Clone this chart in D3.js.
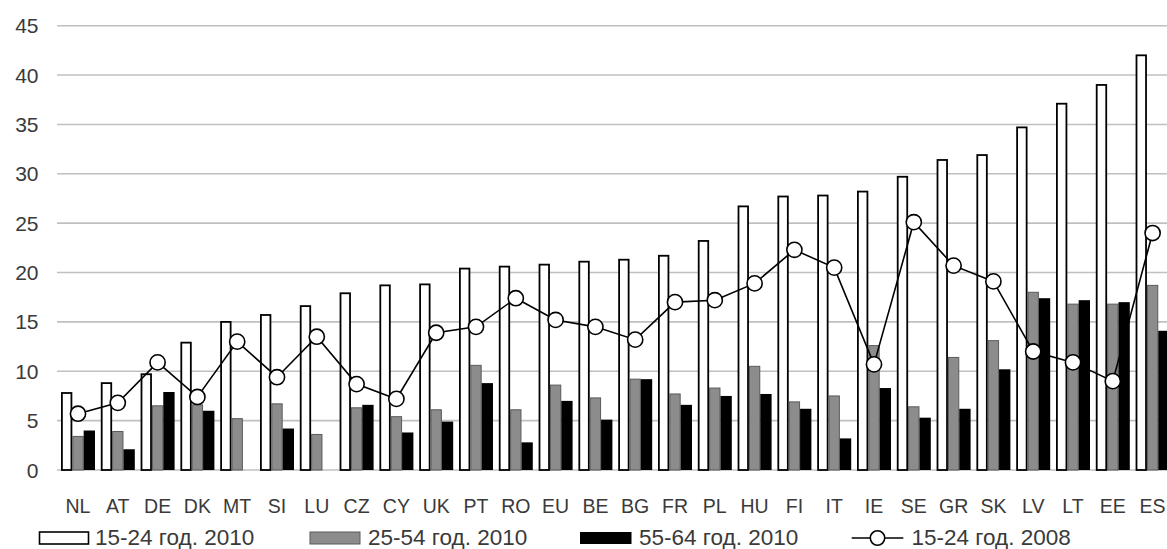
<!DOCTYPE html>
<html>
<head>
<meta charset="utf-8">
<script src="https://cdn.jsdelivr.net/npm/d3@7"></script>
<style>
  html, body { margin: 0; padding: 0; background: #fff; overflow: hidden; }
  text { font-family: "Liberation Sans", Arial, sans-serif; fill: #3a3a3a; }
</style>
</head>
<body>
<svg id="chart" width="1167" height="549"></svg>
<script>
const categories = ["NL","AT","DE","DK","MT","SI","LU","CZ","CY","UK","PT","RO","EU","BE","BG","FR","PL","HU","FI","IT","IE","SE","GR","SK","LV","LT","EE","ES"];
const youth2010 = [7.8,8.8,9.7,12.9,15.0,15.7,16.6,17.9,18.7,18.8,20.4,20.6,20.8,21.1,21.3,21.7,23.2,26.7,27.7,27.8,28.2,29.7,31.4,31.9,34.7,37.1,39.0,42.0];
const prime2010 = [3.4,3.9,6.5,6.6,5.2,6.7,3.6,6.3,5.4,6.1,10.6,6.1,8.6,7.3,9.2,7.7,8.3,10.5,6.9,7.5,12.6,6.4,11.4,13.1,18.0,16.8,16.8,18.7];
const older2010 = [4.0,2.1,7.9,6.0,null,4.2,null,6.6,3.8,4.9,8.8,2.8,7.0,5.1,9.2,6.6,7.5,7.7,6.2,3.2,8.3,5.3,6.2,10.2,17.4,17.2,17.0,14.1];
const youth2008 = [5.7,6.8,10.9,7.4,13.0,9.4,13.5,8.7,7.2,13.9,14.5,17.4,15.2,14.5,13.2,17.0,17.2,18.9,22.3,20.5,10.7,25.1,20.7,19.1,12.0,10.9,9.0,24.0];
const yTicks = [0,5,10,15,20,25,30,35,40,45];
const seriesNames = ["15-24 год. 2010","25-54 год. 2010","55-64 год. 2010","15-24 год. 2008"];

const svg = d3.select("#chart");
const step = 39.8;
const x0 = 58.1;
const x = d3.scaleBand().domain(categories).range([x0, x0 + step * categories.length]).padding(0);
const y = d3.scaleLinear().domain([0, 45]).range([470, 25.7]);
const sub = d3.scaleBand().domain(["a","b","c"]).range([x.bandwidth()/2 - 17, x.bandwidth()/2 + 17]).padding(0);

// gridlines
svg.append("g").selectAll("line").data(yTicks).join("line")
  .attr("x1", 57).attr("x2", 1167)
  .attr("y1", d => y(d)).attr("y2", d => y(d))
  .attr("stroke", "#c0c0c0").attr("stroke-width", 1.6);

// y tick labels
svg.append("g").selectAll("text").data(yTicks).join("text")
  .attr("x", 38.5).attr("y", d => y(d)).attr("dy", "0.36em")
  .attr("text-anchor", "end").style("font-size", "21px")
  .text(d => d);

// bars
const barW = sub.bandwidth();
svg.append("g").selectAll("rect").data(categories).join("rect")
  .attr("x", (d) => x(d) + sub("a") + 0.9)
  .attr("y", (d,i) => y(youth2010[i]))
  .attr("width", barW - 1.8)
  .attr("height", (d,i) => y(0) - y(youth2010[i]))
  .attr("fill", "#fff").attr("stroke", "#000").attr("stroke-width", 1.8);

svg.append("g").selectAll("rect").data(categories).join("rect")
  .attr("x", (d) => x(d) + sub("b") + 0.5)
  .attr("y", (d,i) => y(prime2010[i]))
  .attr("width", barW - 1)
  .attr("height", (d,i) => y(0) - y(prime2010[i]))
  .attr("fill", "#8c8c8c").attr("stroke", "#5a5a5a").attr("stroke-width", 1);

svg.append("g").selectAll("rect").data(categories.filter((d,i) => older2010[i] != null)).join("rect")
  .attr("x", (d) => x(d) + sub("c"))
  .attr("y", (d) => y(older2010[categories.indexOf(d)]))
  .attr("width", barW)
  .attr("height", (d) => y(0) - y(older2010[categories.indexOf(d)]))
  .attr("fill", "#000");

// line
const cx = d => x(d) + x.bandwidth()/2;
const line = d3.line().x(d => cx(d[0])).y(d => y(d[1]));
const pts = categories.map((c,i) => [c, youth2008[i]]);
svg.append("path").datum(pts).attr("d", line)
  .attr("fill", "none").attr("stroke", "#000").attr("stroke-width", 1.6);
svg.append("g").selectAll("circle").data(pts).join("circle")
  .attr("cx", d => cx(d[0])).attr("cy", d => y(d[1])).attr("r", 7.6)
  .attr("fill", "#fff").attr("stroke", "#000").attr("stroke-width", 1.6);

// x labels
svg.append("g").selectAll("text").data(categories).join("text")
  .attr("x", d => cx(d)).attr("y", 513)
  .attr("text-anchor", "middle").style("font-size", "19.5px")
  .text(d => d);

// legend
const lg = svg.append("g");
const ly = 532, lh = 12, lbase = 545;
const items = [
  {x: 39.5, w: 49, tx: 95, type: "rect", fill: "#fff", stroke: "#000", sw: 1.6},
  {x: 310, w: 50, tx: 368, type: "rect", fill: "#8c8c8c", stroke: "#5a5a5a", sw: 1},
  {x: 580, w: 51.5, tx: 639, type: "rect", fill: "#000", stroke: "none", sw: 0},
  {x: 851.7, w: 51.6, tx: 911.5, type: "line"}
];
items.forEach((it, i) => {
  if (it.type === "rect") {
    lg.append("rect").attr("x", it.x).attr("y", ly).attr("width", it.w).attr("height", lh)
      .attr("fill", it.fill).attr("stroke", it.stroke).attr("stroke-width", it.sw);
  } else {
    lg.append("line").attr("x1", it.x).attr("x2", it.x + it.w).attr("y1", ly + lh/2).attr("y2", ly + lh/2)
      .attr("stroke", "#000").attr("stroke-width", 1.6);
    lg.append("circle").attr("cx", it.x + it.w/2).attr("cy", ly + lh/2).attr("r", 7.2)
      .attr("fill", "#fff").attr("stroke", "#000").attr("stroke-width", 1.6);
  }
  lg.append("text").attr("x", it.tx).attr("y", lbase).style("font-size", "22.5px").text(seriesNames[i]);
});
</script>
</body>
</html>
